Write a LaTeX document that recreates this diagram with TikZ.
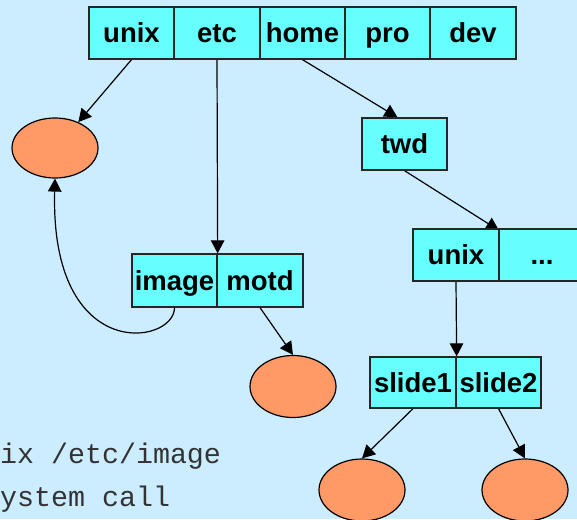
\documentclass[tikz,border=0pt]{standalone}
\usepackage{fontspec}
\setmainfont{Liberation Sans}
\setmonofont{Liberation Mono}
\usetikzlibrary{arrows.meta,shapes.geometric}
\definecolor{bgblue}{HTML}{CCECFF}
\definecolor{cellcyan}{HTML}{66FFFF}
\definecolor{leaforange}{HTML}{FF9966}
\pgfdeclarelayer{back}
\pgfdeclarelayer{lines}
\pgfsetlayers{back,lines,main}
\begin{document}
\begin{tikzpicture}[x=1pt,y=-1pt,
  cell/.style={draw=black!85, line width=1.3pt, fill=cellcyan, rectangle, inner sep=0pt,
    minimum height=52pt, text height=21pt, text depth=2pt,
    font=\fontsize{27.5}{30}\selectfont\bfseries},
  leaf/.style={draw=black, line width=1.2pt, fill=leaforange, ellipse, inner sep=0pt,
    minimum width=86pt, minimum height=61pt},
  link/.style={line width=1.2pt, -{Triangle[length=13pt,width=13.5pt]}},
  code/.style={font=\fontsize{28.3}{30}\selectfont\ttfamily, inner sep=0pt,
    anchor=base west, text=black!80}]
\useasboundingbox (0,0) rectangle (577,519);
\begin{pgfonlayer}{back}
  \fill[bgblue] (0,0) rectangle (577,519);
\end{pgfonlayer}
\clip (0,0) rectangle (577,519);

% top directory
\node[cell, minimum width=85pt] (unix) at (131.5,33) {unix};
\node[cell, minimum width=86pt] (etc)  at (217,33)   {etc};
\node[cell, minimum width=85pt] (home) at (302.5,33) {home};
\node[cell, minimum width=85pt] (pro)  at (387.5,33) {pro};
\node[cell, minimum width=86pt] (dev)  at (473,33)   {dev};

% twd
\node[cell, minimum width=85pt] (twd) at (404.5,144) {twd};

% unix ...
\node[cell, minimum width=86pt] (unixb) at (456,255) {unix};
\node[cell, minimum width=86pt] (dots)  at (542,255) {...};

% image motd
\node[cell, minimum width=85pt, minimum height=53pt] (image) at (174.5,280.5) {image};
\node[cell, minimum width=86pt, minimum height=53pt] (motd)  at (260,280.5)   {motd};

% slide1 slide2
\node[cell, minimum width=86pt, minimum height=51pt] (slidea) at (413,382.5)   {slide1};
\node[cell, minimum width=85pt, minimum height=51pt] (slideb) at (498.5,382.5) {slide2};

% leaves
\node[leaf, minimum height=60pt] (ea) at (55,148) {};
\node[leaf, minimum height=62pt] (eb) at (293,386.5) {};
\node[leaf, minimum height=62pt] (ec) at (362,490) {};
\node[leaf, minimum height=62pt] (ed) at (525,490) {};

% code text
\node[code] (codea) at (0,463) {ix /etc/image};
\node[code] (codeb) at (0,506) {ystem call};

\begin{pgfonlayer}{lines}
  \draw[link] (unix.south) -- (ea.48);
  \draw[link] (etc.south) -- (image.north east);
  \draw[link] (home.south) -- ([xshift=-7pt]twd.north);
  \draw[link, shorten >=-4pt] (twd.south) -- ([xshift=-4pt]unixb.north east);
  \draw[link] (unixb.south) -- (slidea.north east);
  \draw[link] (slidea.south) -- (ec.north);
  \draw[link] (slideb.south) -- (ed.north);
  \draw[link] (motd.south) -- (eb.north);
  \draw[link] (image.south) .. controls (174.5,345) and (50,365) .. (ea.south);
\end{pgfonlayer}
\end{tikzpicture}
\end{document}
